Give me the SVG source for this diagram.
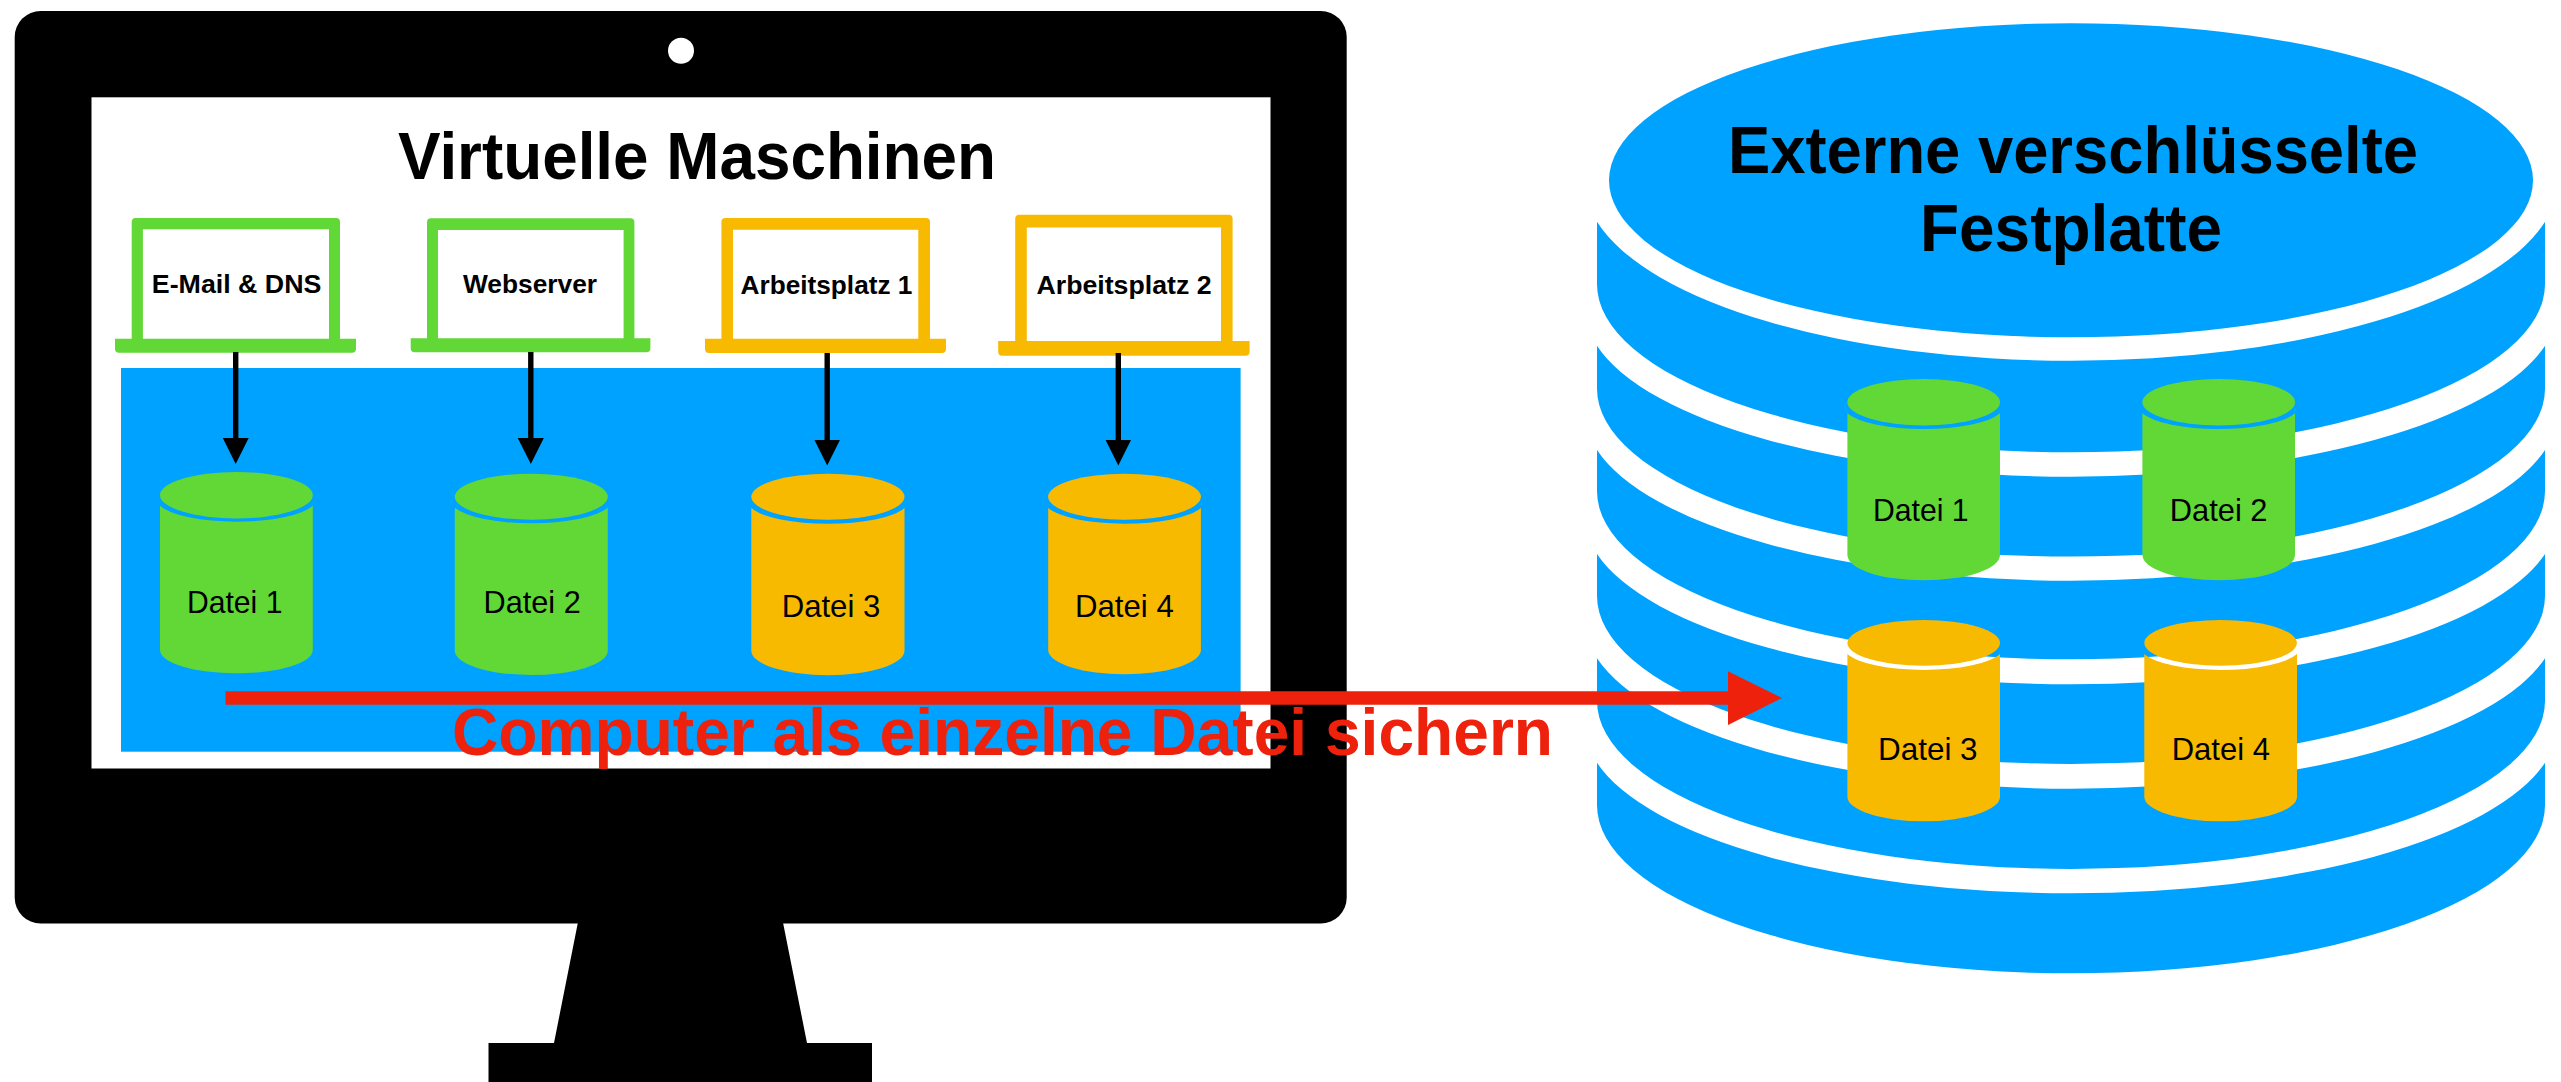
<svg xmlns="http://www.w3.org/2000/svg" width="2561" height="1082" viewBox="0 0 2561 1082">
<defs>
<style>
.t{font-family:"Liberation Sans",Arial,Helvetica,sans-serif;fill:#000}
.mid{text-anchor:middle}
.lbl{font-size:31.5px}
.lap{font-size:26px;font-weight:bold}
.big{font-size:66px;font-weight:bold}
.blue{fill:#00A2FF}
.green{fill:#61D836}
.yellow{fill:#F8BA00}
.red{fill:#EE220C}
.white{fill:#fff}
.conn{stroke:#000;stroke-width:5.4;fill:none;marker-end:url(#ah)}
</style>
<marker id="ah" markerUnits="userSpaceOnUse" markerWidth="26" markerHeight="26" refX="6" refY="13" orient="auto">
<path d="M0 0L26 13L0 26Z" fill="#000"/>
</marker>
</defs>
<rect width="2561" height="1082" fill="#fff"/>
<g id="monitor">
<path d="M578.4 920L554 1043H488.5V1082H872V1043H807L782.5 920Z" fill="#000"/>
<rect x="14.7" y="11" width="1332" height="912.5" rx="26" ry="26" fill="#000"/>
<circle cx="681" cy="50.7" r="13" class="white"/>
<rect x="91.5" y="97.3" width="1179" height="671.2" class="white"/>
<rect x="121" y="368" width="1119.6" height="383.7" class="blue"/>
<text id="title" class="t big mid" x="697" y="179.3" textLength="598" lengthAdjust="spacingAndGlyphs">Virtuelle Maschinen</text>
</g>
<g id="disk">
<ellipse cx="2071" cy="180.3" rx="462" ry="157" class="blue"/>
<path class="blue" d="M1597 221.7A486 180 0 0 0 2071 360.7A486 180 0 0 0 2545 221.7V284.3A474 168 0 0 1 1597 284.3Z"/>
<path class="blue" d="M1597 345.7A486 168 0 0 0 2071 476.7A486 168 0 0 0 2545 345.7V388.7A474 168 0 0 1 1597 388.7Z"/>
<path class="blue" d="M1597 450A486 168 0 0 0 2071 580.7A486 168 0 0 0 2545 450V491.3A474 168 0 0 1 1597 491.3Z"/>
<path class="blue" d="M1597 554A486 168 0 0 0 2071 684.3A486 168 0 0 0 2545 554V596A474 168 0 0 1 1597 596Z"/>
<path class="blue" d="M1597 658.3A486 168 0 0 0 2071 788.7A486 168 0 0 0 2545 658.3V701A474 168 0 0 1 1597 701Z"/>
<path class="blue" d="M1597 762.7A486 168 0 0 0 2071 893.3A486 168 0 0 0 2545 762.7V805.3A474 168 0 0 1 1597 805.3Z"/>
<text class="t big mid" x="2073" y="173.3" textLength="690" lengthAdjust="spacingAndGlyphs">Externe verschlüsselte</text>
<text class="t big mid" x="2071" y="250.7" textLength="302" lengthAdjust="spacingAndGlyphs">Festplatte</text>
</g>
<g id="laptop-1">
<path class="green" fill-rule="evenodd" d="M131.7 338.7V222a4 4 0 0 1 4-4H336a4 4 0 0 1 4 4V338.7H356V348.7a4 4 0 0 1-4 4H119a4 4 0 0 1-4-4V338.7ZM142.9 229.3V338.7H329V229.3Z"/>
<text class="t lap mid" x="236.6" y="293.3" textLength="169.6" lengthAdjust="spacingAndGlyphs">E-Mail &amp; DNS</text>
</g>
<g id="laptop-2">
<path class="green" fill-rule="evenodd" d="M427 338.3V222.3a4 4 0 0 1 4-4H630.4a4 4 0 0 1 4 4V338.3H650.4V348.3a4 4 0 0 1-4 4H414.7a4 4 0 0 1-4-4V338.3ZM438 230V338.3H623.6V230Z"/>
<text class="t lap mid" x="530" y="293.3" textLength="134" lengthAdjust="spacingAndGlyphs">Webserver</text>
</g>
<g id="laptop-3">
<path class="yellow" fill-rule="evenodd" d="M721.4 338.8V221.9a4 4 0 0 1 4-4H926a4 4 0 0 1 4 4V338.8H946V349a4 4 0 0 1-4 4H709a4 4 0 0 1-4-4V338.8ZM733 229.8V338.8H918.3V229.8Z"/>
<text class="t lap mid" x="826.5" y="293.7" textLength="171.9" lengthAdjust="spacingAndGlyphs">Arbeitsplatz 1</text>
</g>
<g id="laptop-4">
<path class="yellow" fill-rule="evenodd" d="M1015.2 341V218.8a4 4 0 0 1 4-4H1228.6a4 4 0 0 1 4 4V341H1249.6V351.7a4 4 0 0 1-4 4H1002.2a4 4 0 0 1-4-4V341ZM1026.8 227.5V341H1221V227.5Z"/>
<text class="t lap mid" x="1124" y="293.7" textLength="175" lengthAdjust="spacingAndGlyphs">Arbeitsplatz 2</text>
</g>
<g id="vm-file-1">
<ellipse class="green" cx="236.4" cy="495.2" rx="76.4" ry="23.2"/>
<path class="green" d="M160 505.7A80 23 0 0 0 236.4 521.7A80 23 0 0 0 312.8 505.7V650A76.4 23.3 0 0 1 160 650Z"/>
<text class="t lbl mid" x="234.7" y="613.3" textLength="95.5" lengthAdjust="spacingAndGlyphs">Datei 1</text>
</g>
<g id="vm-file-2">
<ellipse class="green" cx="531.3" cy="496.7" rx="76.5" ry="23"/>
<path class="green" d="M454.8 507.7A80 23 0 0 0 531.3 523.3A80 23 0 0 0 607.8 507.7V650.7A76.5 24.3 0 0 1 454.8 650.7Z"/>
<text class="t lbl mid" x="532.1" y="613.3" textLength="97.2" lengthAdjust="spacingAndGlyphs">Datei 2</text>
</g>
<g id="vm-file-3">
<ellipse class="yellow" cx="827.9" cy="496.7" rx="76.6" ry="23"/>
<path class="yellow" d="M751.3 508A80 23 0 0 0 827.9 523.7A80 23 0 0 0 904.5 508V650.7A76.6 24.5 0 0 1 751.3 650.7Z"/>
<text class="t lbl mid" x="831" y="617" textLength="98.7" lengthAdjust="spacingAndGlyphs">Datei 3</text>
</g>
<g id="vm-file-4">
<ellipse class="yellow" cx="1124.5" cy="496.7" rx="76.4" ry="23"/>
<path class="yellow" d="M1048.2 508A80 23 0 0 0 1124.5 523.7A80 23 0 0 0 1200.9 508V650.7A76.4 24.5 0 0 1 1048.2 650.7Z"/>
<text class="t lbl mid" x="1124.4" y="617" textLength="98.7" lengthAdjust="spacingAndGlyphs">Datei 4</text>
</g>
<g id="disk-file-1">
<ellipse class="green" cx="1923.7" cy="402.2" rx="76.3" ry="23.2"/>
<path class="green" d="M1847.4 413.3A80 23 0 0 0 1923.7 429A80 23 0 0 0 2000 413.3V555A76.3 25.3 0 0 1 1847.4 555Z"/>
<text class="t lbl mid" x="1920.8" y="520.7" textLength="95.7" lengthAdjust="spacingAndGlyphs">Datei 1</text>
</g>
<g id="disk-file-2">
<ellipse class="green" cx="2218.7" cy="402.2" rx="76.3" ry="23.2"/>
<path class="green" d="M2142.4 413.3A80 23 0 0 0 2218.7 429A80 23 0 0 0 2295 413.3V555A76.3 25.3 0 0 1 2142.4 555Z"/>
<text class="t lbl mid" x="2218.6" y="520.7" textLength="97.7" lengthAdjust="spacingAndGlyphs">Datei 2</text>
</g>
<g id="disk-file-3">
<ellipse class="yellow" cx="1923.7" cy="642.9" rx="76.3" ry="22.9"/>
<path class="yellow" d="M1847.4 654A80 23 0 0 0 1923.7 670A80 23 0 0 0 2000 654V796.7A76.3 24.6 0 0 1 1847.4 796.7Z"/>
<text class="t lbl mid" x="1927.8" y="760" textLength="99.6" lengthAdjust="spacingAndGlyphs">Datei 3</text>
</g>
<g id="disk-file-4">
<ellipse class="yellow" cx="2220.6" cy="642.9" rx="76.3" ry="22.9"/>
<path class="yellow" d="M2144.3 654A80 23 0 0 0 2220.6 670A80 23 0 0 0 2297 654V796.7A76.3 24.6 0 0 1 2144.3 796.7Z"/>
<text class="t lbl mid" x="2220.8" y="760" textLength="98.3" lengthAdjust="spacingAndGlyphs">Datei 4</text>
</g>
<g id="connectors">
<line class="conn" x1="235.7" y1="352" x2="235.7" y2="444"/>
<line class="conn" x1="530.8" y1="352" x2="530.8" y2="444"/>
<line class="conn" x1="827.2" y1="353" x2="827.2" y2="445.5"/>
<line class="conn" x1="1118.3" y1="353" x2="1118.3" y2="445.5"/>
<path class="red" d="M225.5 691.3H1728V671.3L1782 698L1728 725V704.8H225.5Z"/>
</g>
<text id="backup-label" class="t big mid" style="fill:#EE220C" x="1002.5" y="755" textLength="1101" lengthAdjust="spacingAndGlyphs">Computer als einzelne Datei sichern</text>
</svg>
